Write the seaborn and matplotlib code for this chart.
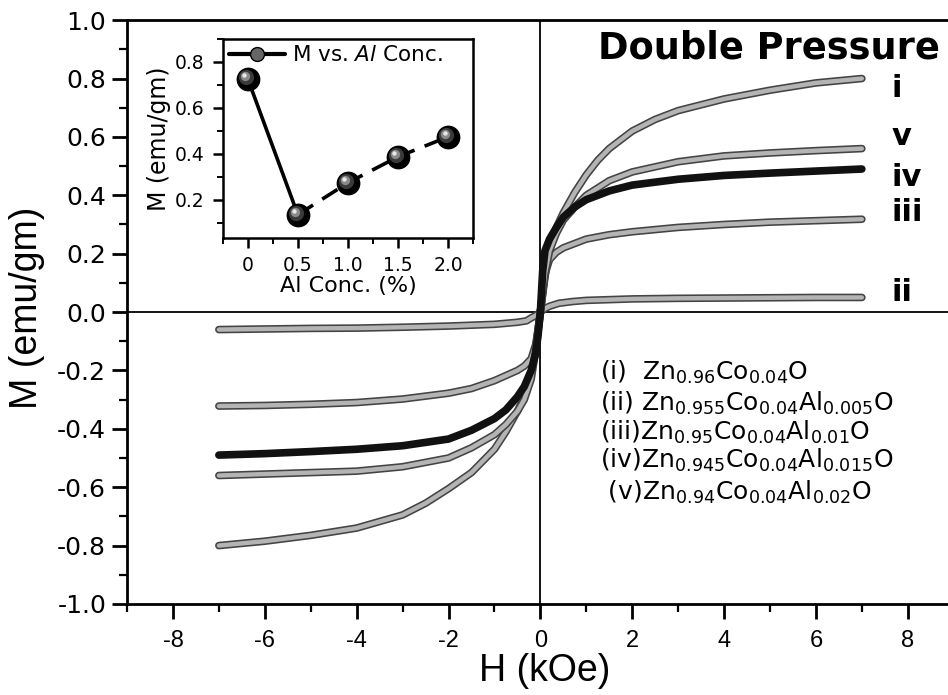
import matplotlib
matplotlib.use("Agg")
import matplotlib.pyplot as plt
import matplotlib.patheffects as pe
import matplotlib.transforms as mtransforms
from matplotlib.lines import Line2D
from matplotlib.ticker import MultipleLocator, FixedLocator, FixedFormatter
import numpy as np
import seaborn as sns

# M-H loops, H in kOe, M in emu/gm
H_i = [-7, -6, -5, -4, -3, -2.5, -2, -1.5, -1, -0.75, -0.5, -0.35, -0.2, -0.1,
       0, 0.1, 0.2, 0.35, 0.5, 0.75, 1, 1.25, 1.5, 2, 2.5, 3, 4, 5, 6, 7]
M_i = [-0.80, -0.785, -0.765, -0.74, -0.695, -0.655, -0.605, -0.55, -0.47, -0.41, -0.34, -0.29, -0.21, -0.12,
       0, 0.12, 0.21, 0.29, 0.34, 0.41, 0.47, 0.52, 0.56, 0.62, 0.66, 0.69, 0.73, 0.76, 0.785, 0.80]

H_ii = [-7, -6, -5, -4, -3, -2, -1, -0.5, -0.3, -0.2, -0.1,
        0, 0.1, 0.2, 0.4, 0.7, 1, 2, 3, 4, 5, 6, 7]
M_ii = [-0.06, -0.058, -0.056, -0.055, -0.052, -0.048, -0.042, -0.035, -0.03, -0.02, -0.012,
        0, 0.012, 0.02, 0.03, 0.036, 0.04, 0.045, 0.047, 0.048, 0.049, 0.05, 0.05]

H_iii = [-7, -6, -5, -4, -3, -2, -1.5, -1, -0.5, -0.35, -0.2, -0.1, -0.05,
         0, 0.05, 0.1, 0.2, 0.35, 0.5, 1, 1.5, 2, 3, 4, 5, 6, 7]
M_iii = [-0.322, -0.32, -0.316, -0.31, -0.298, -0.278, -0.262, -0.235, -0.20, -0.185, -0.16, -0.11, -0.06,
         0, 0.07, 0.13, 0.18, 0.205, 0.22, 0.25, 0.265, 0.275, 0.29, 0.30, 0.308, 0.313, 0.318]

H_iv = [-7, -6, -5, -4, -3, -2, -1.5, -1, -0.75, -0.5, -0.35, -0.2, -0.1, -0.05,
        0, 0.05, 0.1, 0.2, 0.35, 0.5, 0.75, 1, 1.5, 2, 3, 4, 5, 6, 7]
M_iv = [-0.49, -0.485, -0.478, -0.47, -0.458, -0.435, -0.405, -0.365, -0.335, -0.29, -0.255, -0.20, -0.14, -0.08,
        0, 0.14, 0.21, 0.25, 0.29, 0.325, 0.36, 0.385, 0.415, 0.435, 0.455, 0.468, 0.476, 0.483, 0.49]

H_v = [-7, -6, -5, -4, -3, -2, -1.5, -1, -0.75, -0.5, -0.35, -0.2, -0.1,
       0, 0.1, 0.2, 0.35, 0.5, 0.75, 1, 1.5, 2, 3, 4, 5, 6, 7]
M_v = [-0.56, -0.555, -0.55, -0.545, -0.53, -0.50, -0.465, -0.42, -0.385, -0.34, -0.30, -0.23, -0.13,
       0, 0.13, 0.21, 0.27, 0.315, 0.36, 0.40, 0.45, 0.48, 0.515, 0.535, 0.545, 0.553, 0.56]

# inset: M vs Al concentration
al_conc = [0, 0.5, 1.0, 1.5, 2.0]
m_conc = [0.726, 0.135, 0.274, 0.387, 0.474]

curve_tags = ["i", "v", "iv", "iii", "ii"]
compositions = [
    r"(i)  Zn$_{0.96}$Co$_{0.04}$O",
    r"(ii) Zn$_{0.955}$Co$_{0.04}$Al$_{0.005}$O",
    r"(iii)Zn$_{0.95}$Co$_{0.04}$Al$_{0.01}$O",
    r"(iv)Zn$_{0.945}$Co$_{0.04}$Al$_{0.015}$O",
    r" (v)Zn$_{0.94}$Co$_{0.04}$Al$_{0.02}$O",
]

sns.set_style("ticks")
plt.rcParams["font.family"] = ["DejaVu Sans"]
plt.rcParams["axes.unicode_minus"] = False
plt.rcParams["mathtext.default"] = "regular"
for key in ["text.color", "axes.labelcolor", "xtick.color", "ytick.color", "axes.edgecolor"]:
    plt.rcParams[key] = "black"

fig = plt.figure(figsize=(9.48, 6.95), dpi=100)
ax = fig.add_axes([0.134, 0.131, 0.872, 0.840])

# gray "marker band" look
band = [pe.Stroke(linewidth=5.5, foreground="#444444"), pe.Normal()]
for H, M in [(H_i, M_i), (H_ii, M_ii), (H_iii, M_iii), (H_v, M_v)]:
    sns.lineplot(x=H, y=M, ax=ax, sort=False, estimator=None, color="#b4b4b4",
                 lw=3.2, path_effects=band, zorder=3)
sns.lineplot(x=H_iv, y=M_iv, ax=ax, sort=False, estimator=None, color="#111111",
             lw=5.5, zorder=4)

ax.axhline(0, color="black", lw=1.3, zorder=2)
ax.axvline(0, color="black", lw=1.3, zorder=2)

ax.set_xlim(-9, 9)
ax.set_ylim(-1.0, 1.0)
ax.xaxis.set_major_locator(MultipleLocator(2))
ax.xaxis.set_minor_locator(MultipleLocator(1))
ax.yaxis.set_major_locator(MultipleLocator(0.2))
ax.yaxis.set_minor_locator(MultipleLocator(0.1))
ax.yaxis.set_major_formatter(matplotlib.ticker.FormatStrFormatter("%.1f"))
ax.tick_params(which="major", direction="out", length=11, width=2, pad=4)
ax.tick_params(which="minor", direction="out", length=6, width=1.6)
ax.tick_params(axis="y", labelsize=18)
ax.tick_params(axis="x", labelsize=17, pad=8)
for lab in ax.get_xticklabels():
    lab.set_family(["Liberation Sans Narrow", "Liberation Sans"])
for sp in ax.spines.values():
    sp.set_linewidth(2)
ax.set_xlabel("")
ax.set_ylabel("")

fig.text(27 / 948, 1 - 308 / 695, "M (emu/gm)", rotation=90, ha="center", va="center",
         fontsize=27, family="Liberation Sans")
fig.text(545 / 948, 1 - 671 / 695, "H (kOe)", ha="center", va="center",
         fontsize=27, family="Liberation Sans")

fig.text(769 / 948, 1 - 48 / 695, "Double Pressure", ha="center", va="center",
         fontsize=26.5, fontweight="bold")

tag_y = [0.767, 0.60, 0.46, 0.34, 0.068]
for tag, ty in zip(curve_tags, tag_y):
    ax.text(7.65, ty, tag, ha="left", va="center", fontsize=22, fontweight="bold")

comp_y = [372, 403, 432, 460, 492]
for txt, cy in zip(compositions, comp_y):
    fig.text(600 / 948, 1 - cy / 695, txt, ha="left", va="center", fontsize=18)

# inset
ins = fig.add_axes([0.235, 0.658, 0.264, 0.286])
sns.lineplot(x=al_conc[:2], y=m_conc[:2], ax=ins, color="black", lw=2.6, zorder=2)
sns.lineplot(x=al_conc[1:], y=m_conc[1:], ax=ins, color="black", lw=2.6,
             dashes=False, zorder=2).lines[-1].set_dashes((5, 3))
ins.scatter(al_conc, m_conc, s=260, color="black", zorder=4)
for sz, col, off in [(120, "#3a3a3a", 2.0), (45, "#8a8a8a", 3.0), (10, "#e8e8e8", 3.5)]:
    tr = mtransforms.offset_copy(ins.transData, fig=fig, x=-off, y=off, units="dots")
    ins.scatter(al_conc, m_conc, s=sz, color=col, zorder=5, transform=tr, linewidths=0)

ins.set_xlim(-0.25, 2.25)
ins.set_ylim(0.035, 0.9)
ins.xaxis.set_major_locator(FixedLocator([0, 0.5, 1.0, 1.5, 2.0]))
ins.xaxis.set_major_formatter(FixedFormatter(["0", "0.5", "1.0", "1.5", "2.0"]))
ins.xaxis.set_minor_locator(MultipleLocator(0.25))
ins.yaxis.set_major_locator(MultipleLocator(0.2))
ins.yaxis.set_minor_locator(MultipleLocator(0.1))
ins.yaxis.set_major_formatter(matplotlib.ticker.FormatStrFormatter("%.1f"))
ins.tick_params(which="major", direction="out", length=7, width=1.8, labelsize=13.5, pad=6)
ins.tick_params(which="minor", direction="out", length=4, width=1.4)
for sp in ins.spines.values():
    sp.set_linewidth(1.8)
ins.set_xlabel("Al Conc. (%)", fontsize=16, labelpad=1)
ins.set_ylabel("M (emu/gm)", fontsize=17, labelpad=3)

handle = Line2D([], [], color="black", lw=3, marker="o", markersize=10,
                markerfacecolor="#666666", markeredgecolor="black")
ins.legend([handle], [r"M vs. $\mathit{Al}$ Conc."], loc="upper left", frameon=False,
           fontsize=15.5, handlelength=2.6, borderaxespad=0.1, handletextpad=0.3,
           borderpad=0.2)

fig.savefig("out.png", dpi=100)
